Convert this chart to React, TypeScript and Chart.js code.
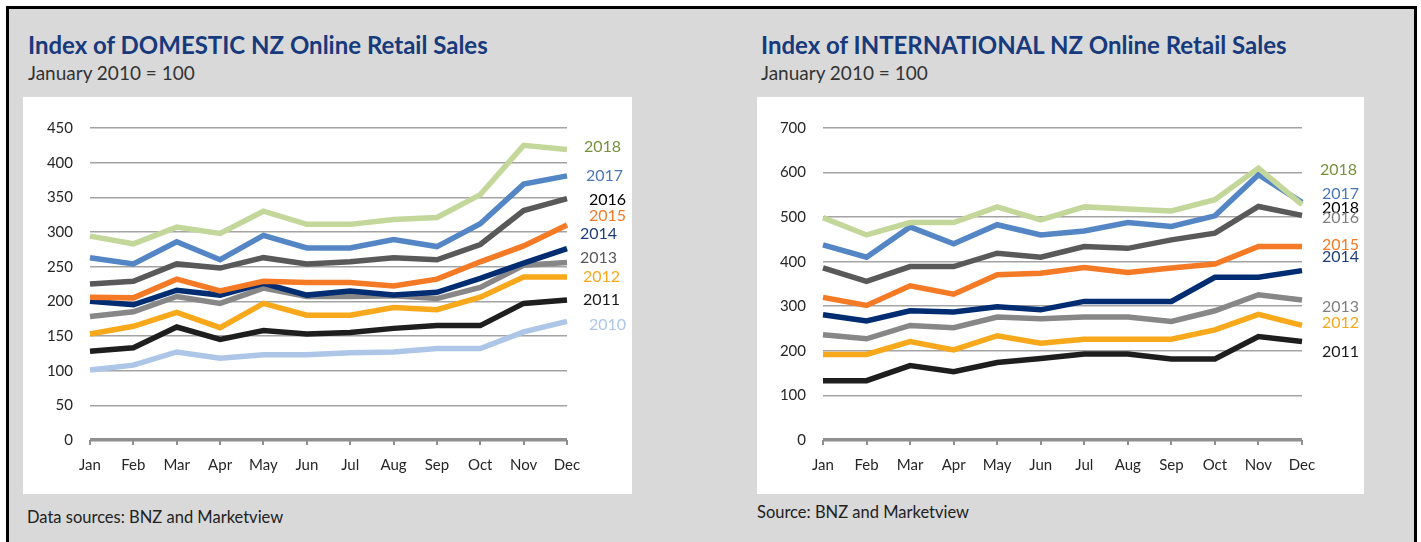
import React, { useEffect, useRef } from "react";
import { Chart, registerables } from "chart.js";

Chart.register(...registerables);

// ---------- data ----------
const months = ["Jan", "Feb", "Mar", "Apr", "May", "Jun", "Jul", "Aug", "Sep", "Oct", "Nov", "Dec"];

// Domestic index (Jan 2010 = 100)
const dom2018 = [294, 283, 307, 298, 330, 311, 311, 318, 321, 354, 425, 419];
const dom2017 = [263, 254, 286, 260, 295, 277, 277, 289, 279, 312, 369, 381];
const dom2016 = [225, 229, 254, 248, 263, 254, 257, 263, 260, 282, 331, 348];
const dom2015 = [206, 205, 232, 215, 229, 227, 227, 222, 232, 257, 280, 310];
const dom2014 = [200, 195, 216, 209, 226, 209, 215, 209, 213, 233, 255, 276];
const dom2013 = [178, 185, 207, 197, 219, 207, 207, 208, 204, 220, 252, 256];
const dom2012 = [153, 164, 184, 162, 197, 180, 180, 191, 188, 206, 235, 235];
const dom2011 = [128, 133, 163, 145, 158, 153, 155, 161, 165, 165, 197, 202];
const dom2010 = [101, 108, 127, 118, 123, 123, 126, 127, 132, 132, 156, 171];

// International index (Jan 2010 = 100)
const int2018 = [499, 460, 488, 488, 523, 494, 523, 518, 514, 539, 610, 528];
const int2017 = [438, 410, 478, 440, 483, 460, 469, 488, 479, 503, 595, 533];
const int2016 = [386, 356, 389, 389, 419, 410, 434, 430, 449, 464, 524, 504];
const int2015 = [320, 302, 346, 327, 371, 374, 387, 376, 386, 395, 434, 434];
const int2014 = [281, 267, 290, 287, 299, 292, 311, 311, 311, 365, 365, 380];
const int2013 = [236, 227, 257, 252, 276, 272, 276, 276, 266, 290, 326, 314];
const int2012 = [192, 192, 221, 202, 234, 217, 226, 226, 226, 247, 282, 257];
const int2011 = [133, 133, 167, 153, 174, 183, 193, 193, 182, 182, 232, 221];

// end-of-line label texts and the value level they sit at
const domLabelTexts = ["2018", "2017", "2016", "2015", "2014", "2013", "2012", "2011", "2010"];
const domLabelLevels = [423, 381, 346, 323, 297, 263, 235, 202, 166];
const intLabelTexts = ["2018", "2017", "2018", "2016", "2015", "2014", "2013", "2012", "2011"];
const intLabelLevels = [606, 552, 521, 498, 437, 411, 298, 262, 197];

// ---------- styles ----------
const FONT = "Lato, 'Open Sans', sans-serif";
const seriesColors: Record<string, string> = {
  "2018": "#c4d79b",
  "2017": "#5485c5",
  "2016": "#595959",
  "2015": "#f47a26",
  "2014": "#002d72",
  "2013": "#878787",
  "2012": "#f7a81b",
  "2011": "#1e1e1e",
  "2010": "#adc6e8",
};
const domLabelColors = ["#76923c", "#4a76b8", "#000000", "#f47a26", "#1f3d7a", "#595959", "#f7a81b", "#1a1a1a", "#adc6e8"];
const domLabelDx = [17, 19, 22, 22, 13, 13, 16, 16, 22];
const intLabelColors = ["#76923c", "#4a76b8", "#000000", "#7f7f7f", "#f47a26", "#1f3d7a", "#7f7f7f", "#f7a81b", "#1a1a1a"];
const intLabelDx = [18, 20, 20, 20, 20, 20, 20, 20, 20];

const endLabelPlugin = {
  id: "endLabels",
  afterDraw(chart: any, _args: any, opts: any) {
    if (!opts || !opts.texts) return;
    const { ctx, chartArea } = chart;
    const y = chart.scales.y;
    ctx.save();
    ctx.font = `16px ${FONT}`;
    ctx.textAlign = "left";
    ctx.textBaseline = "middle";
    opts.texts.forEach((t: string, i: number) => {
      ctx.fillStyle = opts.colors[i];
      ctx.fillText(t, chartArea.right + opts.dx[i], y.getPixelForValue(opts.levels[i]));
    });
    ctx.restore();
  },
};

function makeConfig(
  years: string[],
  series: number[][],
  max: number,
  step: number,
  yWidth: number,
  rightPad: number,
  labels: any
) {
  return {
    type: "line" as const,
    data: {
      labels: months,
      datasets: years.map((yr, i) => ({
        label: yr,
        data: series[i],
        borderColor: seriesColors[yr],
        backgroundColor: seriesColors[yr],
        borderWidth: 5.5,
        pointRadius: 0,
        tension: 0,
        fill: false,
      })),
    },
    options: {
      animation: false as const,
      responsive: false,
      devicePixelRatio: 1,
      layout: { padding: { top: 31, right: rightPad, left: 0, bottom: 0 } },
      plugins: {
        legend: { display: false },
        tooltip: { enabled: false },
        endLabels: labels,
      },
      scales: {
        x: {
          grid: {
            display: true,
            drawOnChartArea: false,
            drawTicks: true,
            tickLength: 5,
            color: "#8f8f8f",
            lineWidth: 2,
          },
          border: { display: false },
          ticks: { color: "#262626", font: { family: FONT, size: 15 }, padding: 11, maxRotation: 0 },
          afterFit: (s: any) => {
            s.height = 54;
          },
        },
        y: {
          min: 0,
          max,
          ticks: { stepSize: step, color: "#262626", font: { family: FONT, size: 15 }, padding: 17 },
          grid: {
            drawTicks: false,
            color: (c: any) => (c.tick && c.tick.value === 0 ? "#8f8f8f" : "#a3a3a3"),
            lineWidth: (c: any) => (c.tick && c.tick.value === 0 ? 3.5 : 1.6),
          },
          border: { display: false },
          afterFit: (s: any) => {
            s.width = yWidth;
          },
        },
      },
    },
    plugins: [endLabelPlugin],
  };
}

function ChartPanel({ config, width, height }: { config: any; width: number; height: number }) {
  const ref = useRef<HTMLCanvasElement | null>(null);
  useEffect(() => {
    if (!ref.current) return;
    const chart = new Chart(ref.current, config);
    return () => chart.destroy();
  }, [config]);
  return <canvas ref={ref} width={width} height={height} style={{ width, height, display: "block" }} />;
}

const domConfig = makeConfig(
  ["2018", "2017", "2016", "2015", "2014", "2013", "2012", "2011", "2010"],
  [dom2018, dom2017, dom2016, dom2015, dom2014, dom2013, dom2012, dom2011, dom2010],
  450,
  50,
  67,
  65,
  { texts: domLabelTexts, levels: domLabelLevels, colors: domLabelColors, dx: domLabelDx }
);
const intConfig = makeConfig(
  ["2018", "2017", "2016", "2015", "2014", "2013", "2012", "2011"],
  [int2018, int2017, int2016, int2015, int2014, int2013, int2012, int2011],
  700,
  100,
  66,
  62,
  { texts: intLabelTexts, levels: intLabelLevels, colors: intLabelColors, dx: intLabelDx }
);

const abs = (l: number, t: number, extra: React.CSSProperties = {}): React.CSSProperties => ({
  position: "absolute",
  left: l,
  top: t,
  whiteSpace: "nowrap",
  ...extra,
});

export default function App() {
  const titleStyle: React.CSSProperties = {
    fontFamily: FONT,
    fontWeight: 700,
    fontSize: 24,
    lineHeight: "24px",
    color: "#173a7d",
  };
  const subStyle: React.CSSProperties = { fontFamily: FONT, fontSize: 19, lineHeight: "20px", color: "#333333" };
  const srcStyle: React.CSSProperties = { fontFamily: FONT, fontSize: 16.5, lineHeight: "18px", color: "#222222" };
  return (
    <div style={{ position: "absolute", left: 0, top: 0, width: 1421, height: 542, background: "#ffffff", overflow: "hidden" }}>
      <div
        style={{
          position: "absolute",
          left: 6,
          top: 6,
          width: 1411,
          height: 540,
          boxSizing: "border-box",
          background: "#d9d9d9",
          borderTop: "3px solid #000",
          borderLeft: "3px solid #000",
          borderRight: "3px solid #000",
        }}
      />
      <div style={abs(28, 33, titleStyle)}>Index of DOMESTIC NZ Online Retail Sales</div>
      <div style={abs(28, 63, subStyle)}>January 2010 = 100</div>
      <div style={abs(761, 33, titleStyle)}>Index of INTERNATIONAL NZ Online Retail Sales</div>
      <div style={abs(761, 63, subStyle)}>January 2010 = 100</div>

      <div style={abs(23, 97, { width: 609, height: 397, background: "#ffffff" })}>
        <ChartPanel config={domConfig} width={609} height={397} />
      </div>
      <div style={abs(757, 97, { width: 607, height: 397, background: "#ffffff" })}>
        <ChartPanel config={intConfig} width={607} height={397} />
      </div>

      <div style={abs(27, 508, srcStyle)}>Data sources: BNZ and Marketview</div>
      <div style={abs(757, 503, srcStyle)}>Source: BNZ and Marketview</div>
    </div>
  );
}
